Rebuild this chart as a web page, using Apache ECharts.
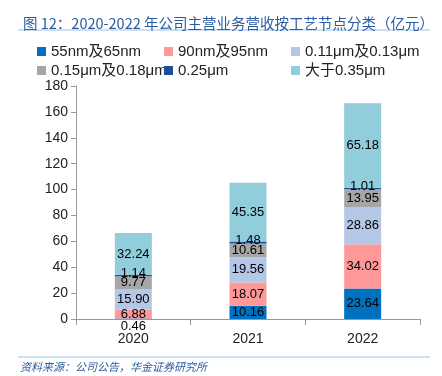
<!DOCTYPE html>
<html>
<head>
<meta charset="utf-8">
<script src="https://cdn.jsdelivr.net/npm/echarts@6/dist/echarts.min.js"></script>
<style>
  html, body { margin: 0; padding: 0; background: #fff; }
  #main { width: 442px; height: 376px; }
</style>
</head>
<body>
<div id="main"></div>
<script>
var years = ['2020', '2021', '2022'];
var nodeNames = ['55nm及65nm', '90nm及95nm', '0.11μm及0.13μm', '0.15μm及0.18μm', '0.25μm', '大于0.35μm'];
var nm55 = [0.46, 10.16, 23.64];
var nm90 = [6.88, 18.07, 34.02];
var um011 = [15.90, 19.56, 28.86];
var um015 = [9.77, 10.61, 13.95];
var um025 = [1.14, 1.48, 1.01];
var um035 = [32.24, 45.35, 65.18];
var yTicks = [0, 180, 20];

var colors = ['#0070c0', '#ff9999', '#b4c7e7', '#a6a6a6', '#1f4e99', '#92cddc'];
var font = 'Liberation Sans, Arial, Noto Sans CJK SC, sans-serif';

var chart = echarts.init(document.getElementById('main'));

function makeSeries(name, vals, i) {
    return {
        name: name,
        type: 'bar',
        stack: 'total',
        barWidth: 37,
        itemStyle: { color: colors[i] },
        label: {
            show: true,
            position: 'inside',
            color: '#000',
            fontSize: 13,
            fontFamily: font,
            formatter: function (p) { return p.value.toFixed(2); }
        },
        data: vals.map(function (v) {
            // 0.46 太小，标签放到轴下方
            if (v < 1) return { value: v, label: { offset: [0, 8] } };
            if (v < 2) return { value: v, label: { offset: [0, -2] } };
            return v;
        })
    };
}

// 图例分三列，每列两项
function makeLegend(left, names) {
    return {
        left: left,
        top: 39,
        orient: 'vertical',
        itemWidth: 9,
        itemHeight: 9,
        itemGap: 4,
        icon: 'rect',
        data: names,
        textStyle: {
            fontSize: 15,
            color: '#222',
            fontFamily: font
        }
    };
}

var option = {
    animation: false,
    color: colors,
    title: {
        text: '图 12：2020-2022 年公司主营业务营收按工艺节点分类（亿元）',
        left: 18,
        top: 11,
        textStyle: {
            color: '#2a5ba3',
            fontSize: 14.5,
            fontWeight: 'normal',
            fontFamily: 'Noto Sans CJK SC, sans-serif'
        }
    },
    legend: [
        makeLegend(32, [nodeNames[0], nodeNames[3]]),
        makeLegend(159, [nodeNames[1], nodeNames[4]]),
        makeLegend(286, [nodeNames[2], nodeNames[5]])
    ],
    grid: {
        left: 76,
        right: 22,
        top: 86,
        bottom: 57
    },
    xAxis: {
        type: 'category',
        data: years,
        axisLine: { lineStyle: { color: '#999' } },
        axisTick: { show: true, length: 6, lineStyle: { color: '#999' } },
        axisLabel: { color: '#222', fontSize: 14, margin: 13, fontFamily: font }
    },
    yAxis: {
        type: 'value',
        min: yTicks[0],
        max: yTicks[1],
        interval: yTicks[2],
        splitLine: { show: false },
        axisLine: { show: true, lineStyle: { color: '#999' } },
        axisTick: { show: true, length: 5, lineStyle: { color: '#999' } },
        axisLabel: { color: '#222', fontSize: 14, margin: 8, fontFamily: font }
    },
    graphic: [
        {
            type: 'line',
            shape: { x1: 18, y1: 30, x2: 430, y2: 30 },
            style: { stroke: '#9dc3e6', lineWidth: 1.2 }
        },
        {
            type: 'line',
            shape: { x1: 18, y1: 357, x2: 430, y2: 357 },
            style: { stroke: '#9dc3e6', lineWidth: 1.2 }
        },
        {
            type: 'text',
            left: 20,
            top: 361,
            style: {
                text: '资料来源：公司公告，华金证券研究所',
                fill: '#2e5c9e',
                font: 'italic 11px "Noto Sans CJK SC", sans-serif'
            }
        }
    ],
    series: [
        makeSeries(nodeNames[0], nm55, 0),
        makeSeries(nodeNames[1], nm90, 1),
        makeSeries(nodeNames[2], um011, 2),
        makeSeries(nodeNames[3], um015, 3),
        makeSeries(nodeNames[4], um025, 4),
        makeSeries(nodeNames[5], um035, 5)
    ]
};

chart.setOption(option);
</script>
</body>
</html>
